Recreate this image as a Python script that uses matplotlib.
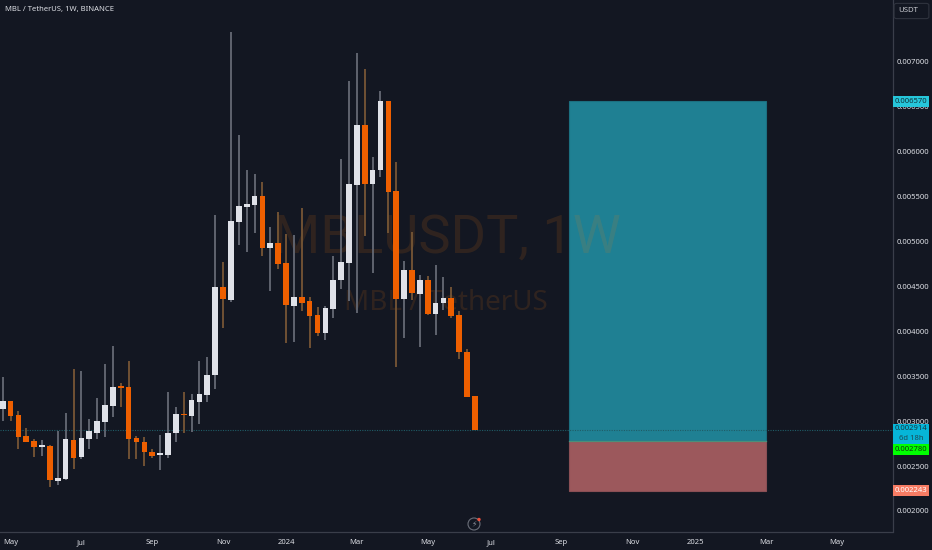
import numpy as np
import matplotlib
matplotlib.use("Agg")
import matplotlib.pyplot as plt
from matplotlib.patches import Rectangle, FancyBboxPatch, Circle

# weekly candles, prices in millionths of a USDT
opens = [3136,3221,3066,2835,2776,2716,2724,2334,2360,2791,
         2601,2802,2872,2994,3172,3381,3377,2809,2772,2660,
         2627,2624,2865,3084,3061,3217,3292,3511,4491,4353,
         5222,5389,5411,5508,4929,4984,4762,4283,4383,4335,
         4183,3979,4249,4569,4758,5634,6295,5641,5797,6566,
         5563,4357,4684,4420,4576,4197,4313,4372,4179,3770,3277]
closes = [3221,3061,2827,2772,2716,2720,2342,2367,2802,2593,
          2809,2887,2999,3180,3384,3373,2802,2765,2657,2612,
          2631,2872,3084,3066,3233,3300,3514,4491,4361,5229,
          5400,5419,5508,4932,4988,4754,4297,4383,4313,4171,
          3985,4257,4576,4769,5641,6295,5641,5797,6566,5552,
          4361,4684,4428,4572,4197,4320,4368,4171,3767,3273,2902]
highs = [3495,3225,3113,2928,2802,2791,2732,2891,3091,3581,
         3559,3021,3262,3634,3837,3425,3667,2835,2827,2694,
         2850,3322,3158,3325,3303,3674,3715,5296,4769,7331,
         6187,5797,5753,5660,5159,5326,5085,5073,5374,4383,
         4272,4279,4840,5916,6788,7097,6919,5945,6677,6566,
         5883,4781,5107,4631,4614,4739,4609,4498,4227,3800,3281]
lows = [3005,3002,2687,2772,2598,2609,2267,2293,2348,2468,
        2582,2694,2802,2827,3050,3158,2582,2582,2501,2593,
        2460,2593,2768,2872,2883,2972,3214,3362,4041,4331,
        4965,4881,5092,4843,4450,4695,3867,3885,4230,3818,
        3952,3907,4152,4469,4338,4208,5066,4650,5723,5099,
        3607,3923,4350,3830,4179,3960,4235,4152,3689,3273,2902]

x_tick_pos = [1, 10, 19, 28, 36, 45, 54, 62, 71, 80, 88, 97, 106]
x_tick_labels = ["May", "Jul", "Sep", "Nov", "2024", "Mar", "May", "Jul", "Sep", "Nov", "2025", "Mar", "May"]
y_ticks = [2000, 2500, 3000, 3500, 4000, 4500, 5000, 5500, 6000, 6500, 7000]

position_start, position_end = 72, 97
target_price, entry_price, stop_price = 6569, 2774, 2226

BG = "#131722"
UP = "#dfe1e8"
DOWN = "#ee5f00"
W, H = 932, 550

plt.rcParams['font.family'] = ['Noto Sans', 'DejaVu Sans']
fig = plt.figure(figsize=(W / 100, H / 100), dpi=100, facecolor=BG)
ax = fig.add_axes([0, (H - 532) / H, 892.5 / W, 532 / H], facecolor=BG)
ax.set_xlim(-0.343, 113.06)
ax.set_ylim(1766, 7690.4)


def figpx(x, y):
    return x / W, 1 - y / H


# watermark sits above the position boxes but below the candles
ax.add_patch(Rectangle((position_start, entry_price), position_end - position_start,
                       target_price - entry_price, fc="#1f8093", ec="#1c6f80", lw=0.8, zorder=1))
ax.add_patch(Rectangle((position_start, stop_price), position_end - position_start,
                       entry_price - stop_price, fc="#9c585c", ec="#8a4f55", lw=0.8, zorder=1))
ax.plot([position_start, position_end], [entry_price, entry_price], color="#4a8f7a", lw=0.9, zorder=1.1)

ax.text(*figpx(447, 238), "MBLUSDT, 1W", transform=fig.transFigure, ha="center", va="center",
        fontsize=39, color="#ee7a10", alpha=0.13, zorder=1.5, family="Roboto")
ax.text(*figpx(446, 303), "MBL / TetherUS", transform=fig.transFigure, ha="center", va="center",
        fontsize=20, color="#ee7a10", alpha=0.13, zorder=1.5)

ax.axhline(closes[-1], color="#1f5c66", lw=0.8, ls=(0, (1, 1.2)), zorder=2)

idx = np.arange(len(opens))
o, c = np.array(opens, float), np.array(closes, float)
up = c >= o
ax.vlines(idx[up], np.array(lows)[up], np.array(highs)[up], color="#656975", lw=1.3, zorder=3)
ax.vlines(idx[~up], np.array(lows)[~up], np.array(highs)[~up], color="#775635", lw=1.3, zorder=3)
# doji candles keep a visible body
bottoms = np.minimum(o, c)
heights = np.maximum(np.abs(c - o), 14)
ax.bar(idx, heights, bottom=bottoms, width=0.72, color=[UP if u else DOWN for u in up],
       linewidth=0, zorder=4)

ax.set_xticks(x_tick_pos, x_tick_labels)
ax.set_yticks(y_ticks, [f"{v / 1e6:.6f}" for v in y_ticks])
ax.yaxis.tick_right()
ax.tick_params(axis="both", length=0, colors="#dcdee4", labelsize=5.5)
ax.tick_params(axis="y", pad=3)
ax.tick_params(axis="x", pad=5)
for s in ("top", "left"):
    ax.spines[s].set_visible(False)
for s in ("right", "bottom"):
    ax.spines[s].set_color("#3a3e4a")
    ax.spines[s].set_linewidth(0.9)

fig.text(*figpx(5, 10), "MBL / TetherUS, 1W, BINANCE", ha="left", va="center",
         fontsize=5.5, color="#dcdee4", fontweight="medium")

# USDT button
fig.add_artist(FancyBboxPatch(figpx(896, 17.5), 31 / W, 13 / H, boxstyle="round,pad=0.002,rounding_size=0.003",
                              transform=fig.transFigure, fc=BG, ec="#2f333e", lw=0.8))
fig.text(*figpx(908.5, 11), "USDT", ha="center", va="center", fontsize=5.6, color="#c8cad0")


def tag(y0, y1, fc, lines, tc):
    fig.add_artist(Rectangle(figpx(892.5, y1), 36 / W, (y1 - y0) / H, transform=fig.transFigure,
                             fc=fc, ec="none", zorder=10))
    step = (y1 - y0) / len(lines)
    for i, (t, col) in enumerate(zip(lines, tc)):
        fig.text(*figpx(911, y0 + step * (i + .5)), t, ha="center", va="center", fontsize=5.5,
                 color=col, zorder=11)


tag(96, 106.5, "#26c6da", ["0.006570"], ["#10333a"])
tag(424, 443.5, "#06b5d8", ["0.002914", "6d 18h"], ["#123a46", "#1c4a55"])
tag(444, 455, "#00ff00", ["0.002780"], ["#0d3a0d"])
tag(485, 496, "#f77c64", ["0.002243"], ["#ffffff"])

# lightning badge
fig.add_artist(Circle((474, H - 524), 6, transform=None, fc="none", ec="#6a6e79", lw=0.8))
fig.text(*figpx(474, 524), "\u26a1", ha="center", va="center", fontsize=5.5, color="#8a8e99",
         family="DejaVu Sans")
fig.add_artist(Circle((479, H - 519.5), 1.7, transform=None, fc="#f0503c", ec="none"))

fig.savefig("out.png", dpi=100, facecolor=BG)
